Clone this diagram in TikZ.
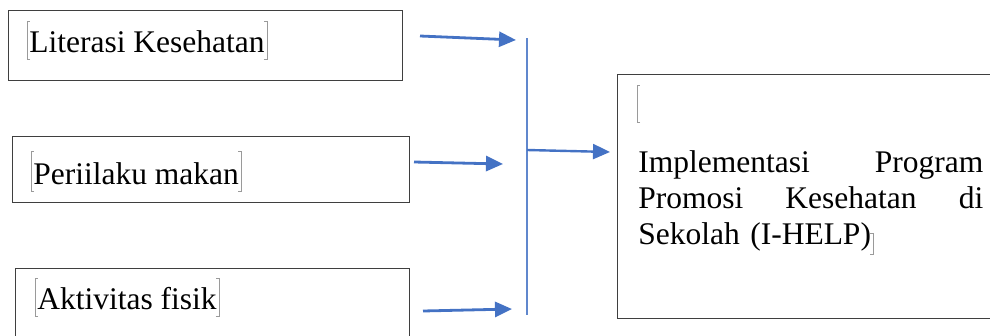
\documentclass[tikz,border=0pt]{standalone}
\usepackage{fontspec}
\setmainfont{Liberation Serif}
\usetikzlibrary{arrows.meta}

\definecolor{wordblue}{HTML}{4472C4}
\definecolor{boxgray}{HTML}{3F3F3F}
\definecolor{markgray}{HTML}{9A9A9A}

\begin{document}
\begin{tikzpicture}[x = 1pt, y = -1pt, % one unit per pixel, y runs down
                semithick % line style
            ]

            \tikzstyle{box}=[draw = boxgray, line width = 1.4pt, rectangle,
            anchor = north west, inner sep = 0pt]
            \tikzstyle{label}=[anchor = base west, inner sep = 0pt,
            font = \fontsize{31.5}{36}\selectfont]
            \tikzstyle{feed}=[-{Triangle[length = 17pt, width = 15pt]},
            draw = wordblue, line width = 2.8pt]
            \tikzstyle{bar}=[draw = wordblue!85, line width = 1.4pt]
            \tikzstyle{tmark}=[draw = markgray, line width = 0.6pt]

            \useasboundingbox (0,0) rectangle (990,335);
            \clip (0,0) rectangle (990,335);

            % the boxes
            \node[box, minimum width = 394pt, minimum height = 70pt] (litbox) at (8,10) {};
            \node[box, minimum width = 397pt, minimum height = 66pt] (makanbox) at (12,136) {};
            \node[box, minimum width = 394pt, minimum height = 90pt] (fisikbox) at (15,268) {};
            \node[box, minimum width = 390pt, minimum height = 244pt] (progbox) at (617,74) {};

            % the texts
            \node[label] (lit) at (29,52) {Literasi Kesehatan};
            \node[label] (makan) at (33,184) {Periilaku makan};
            \node[label] (fisik) at (37,309) {Aktivitas fisik};
            \node[label, text width = 345pt, align = left] (prog) at (638,172)
            {Implementasi \hfill Program\\ Promosi \hfill Kesehatan \hfill di\\ Sekolah (I-HELP)};

            % text marks
            \draw[tmark] ([shift={(1,7)}]lit.base west) -- ++(-3,0) -- ++(0,-38) -- ++(3,0);
            \draw[tmark] ([shift={(-1,7)}]lit.base east) -- ++(3,0) -- ++(0,-38) -- ++(-3,0);
            \draw[tmark] ([shift={(1,7)}]makan.base west) -- ++(-3,0) -- ++(0,-40) -- ++(3,0);
            \draw[tmark] ([shift={(-1,7)}]makan.base east) -- ++(3,0) -- ++(0,-40) -- ++(-3,0);
            \draw[tmark] ([shift={(1,7)}]fisik.base west) -- ++(-3,0) -- ++(0,-38) -- ++(3,0);
            \draw[tmark] ([shift={(-1,7)}]fisik.base east) -- ++(3,0) -- ++(0,-38) -- ++(-3,0);
            \draw[tmark] (640,122) -- (637,122) -- (637,85) -- (640,85);
            \draw[tmark] (870,254) -- (873,254) -- (873,233) -- (870,233);

            % arrow ends
            \coordinate (in1) at (420,36); \coordinate (out1) at (516,40);
            \coordinate (in2) at (414,162); \coordinate (out2) at (503,164);
            \coordinate (in3) at (423,311); \coordinate (out3) at (512,309);
            \coordinate (bartop) at (527,38); \coordinate (barbot) at (527,315);
            \coordinate (barmid) at (527,150); \coordinate (goal) at (610,152);

            \draw[bar] (bartop) -- (barbot);
            \draw[feed] (in1) -- (out1); \draw[feed] (in2) -- (out2);
            \draw[feed] (in3) -- (out3);
            \draw[feed, line width = 2.4pt] (barmid) -- (goal);
        \end{tikzpicture}
\end{document}
